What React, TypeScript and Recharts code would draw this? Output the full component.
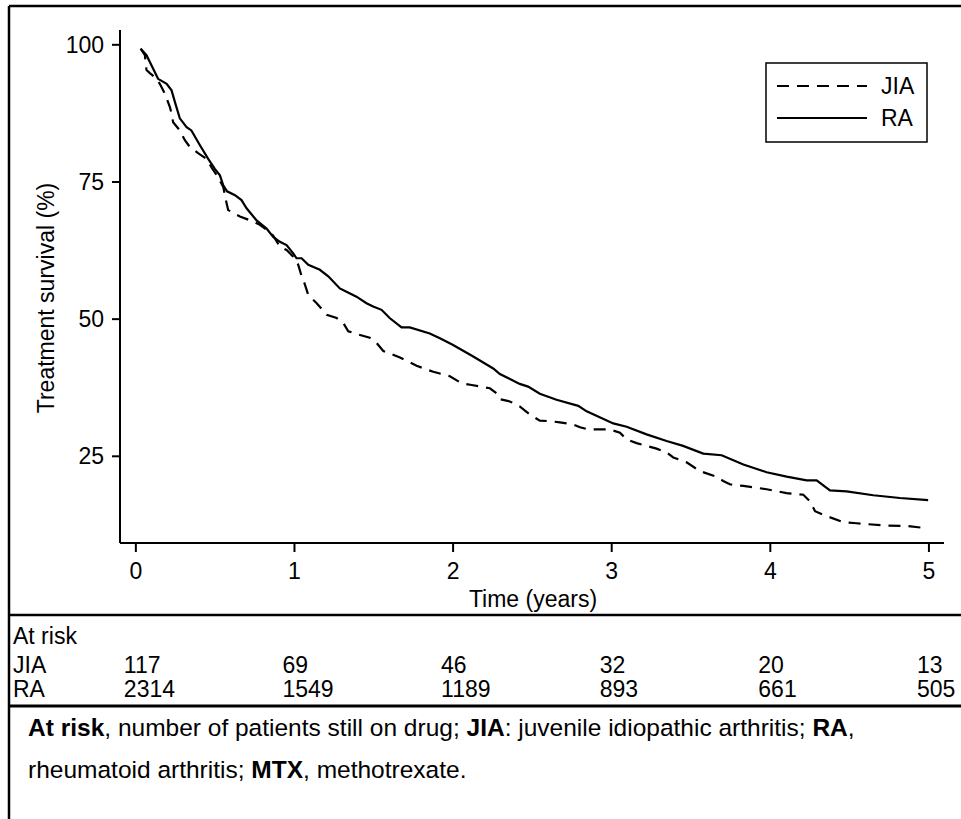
import React from 'react';
import { LineChart, Line, XAxis, YAxis } from 'recharts';

const raTime = [0.03,0.067,0.14,0.194,0.225,0.246,0.277,0.32,0.35,0.404,0.456,0.498,0.53,0.551,0.575,0.625,0.666,0.698,0.761,0.824,0.866,0.908,0.95,0.992,1.013,1.045,1.087,1.16,1.213,1.286,1.328,1.391,1.454,1.496,1.549,1.6,1.675,1.727,1.853,1.917,2.0,2.127,2.253,2.295,2.42,2.473,2.547,2.652,2.789,2.842,3.01,3.094,3.22,3.346,3.45,3.577,3.693,3.83,3.977,4.103,4.229,4.292,4.376,4.481,4.649,4.817,4.995];
const raSurv = [99.3,98.1,93.8,92.9,91.7,89.6,86.6,85.0,84.4,81.7,79.2,77.4,76.2,74.4,73.3,72.6,71.7,70.2,68.0,66.5,65.0,64.1,63.5,62.0,61.1,61.1,59.9,59.0,57.8,55.6,55.0,54.1,52.9,52.3,51.7,50.2,48.5,48.5,47.4,46.5,45.3,43.2,41.0,40.0,38.2,37.7,36.4,35.3,34.2,33.2,31.0,30.4,29.0,27.8,26.9,25.5,25.2,23.5,22.1,21.3,20.6,20.6,18.8,18.6,17.9,17.4,17.0];

const jiaTime = [0.03,0.057,0.067,0.09,0.12,0.151,0.183,0.214,0.225,0.235,0.277,0.309,0.34,0.39,0.446,0.48,0.509,0.551,0.572,0.582,0.656,0.74,0.782,0.824,0.866,0.908,0.95,0.992,1.024,1.045,1.066,1.087,1.14,1.203,1.266,1.308,1.339,1.402,1.475,1.517,1.56,1.665,1.77,1.875,1.98,2.054,2.117,2.232,2.274,2.295,2.358,2.42,2.484,2.547,2.61,2.673,2.757,2.8,2.852,2.989,3.052,3.094,3.157,3.283,3.346,3.388,3.472,3.556,3.66,3.703,3.745,3.83,3.977,4.103,4.208,4.25,4.282,4.355,4.46,4.544,4.712,4.859,4.985];
const jiaSurv = [99.3,98.1,95.4,94.8,94.1,92.9,91.1,88.7,87.5,85.9,84.4,82.6,81.4,80.3,79.2,77.5,76.3,74.1,71.1,69.9,68.7,67.8,67.2,66.3,65.2,63.2,62.6,61.4,59.9,57.8,56.3,54.4,52.9,50.8,50.2,49.3,47.8,47.2,46.6,45.7,44.2,43.0,41.5,40.4,39.6,38.3,38.0,37.4,36.5,35.4,35.0,34.1,32.6,31.5,31.4,31.2,30.8,30.3,29.9,29.9,29.3,28.1,27.4,26.4,25.7,24.8,23.9,22.3,21.3,20.5,19.9,19.6,19.0,18.3,18.0,16.8,15.0,14.1,13.0,12.8,12.4,12.3,11.9];

const xTicks = [0, 1, 2, 3, 4, 5];
const yTicks = [25, 50, 75, 100];
const riskGroups = ['JIA', 'RA'];
const jiaAtRisk = [117, 69, 46, 32, 20, 13];
const raAtRisk = [2314, 1549, 1189, 893, 661, 505];

const raData = raTime.map((t, i) => ({ t, s: raSurv[i] }));
const jiaData = jiaTime.map((t, i) => ({ t, s: jiaSurv[i] }));

const W = 961;
const H = 819;
const PLOT_LEFT = 120;
const PLOT_RIGHT = 944;
const PLOT_TOP = 30;
const PLOT_BOTTOM = 543;
const X_MIN = -0.1;
const X_MAX = 5.095;
const Y_MIN = 9.2;
const Y_MAX = 102.7;
const FONT = '"Liberation Sans", Arial, Helvetica, sans-serif';
const FS = 23;

const xPx = (t: number) => PLOT_LEFT + ((t - X_MIN) / (X_MAX - X_MIN)) * (PLOT_RIGHT - PLOT_LEFT);

export default function App() {
  const tickStyle = { fontSize: FS, fill: '#000', fontFamily: FONT };
  return (
    <div style={{ position: 'absolute', left: 0, top: 0, width: W, height: H, background: '#fff' }}>
      <LineChart
        width={W}
        height={H}
        margin={{ top: PLOT_TOP, right: W - PLOT_RIGHT, bottom: H - PLOT_BOTTOM - 40, left: PLOT_LEFT - 60 }}
      >
        <XAxis
          dataKey="t"
          type="number"
          domain={[X_MIN, X_MAX]}
          ticks={xTicks}
          allowDataOverflow
          height={40}
          tick={tickStyle}
          tickSize={9}
          tickMargin={11}
          axisLine={{ stroke: '#000', strokeWidth: 2 }}
          tickLine={{ stroke: '#000', strokeWidth: 2 }}
        />
        <YAxis
          type="number"
          domain={[Y_MIN, Y_MAX]}
          ticks={yTicks}
          allowDataOverflow
          width={60}
          tick={tickStyle}
          tickSize={8}
          tickMargin={8}
          axisLine={{ stroke: '#000', strokeWidth: 2 }}
          tickLine={{ stroke: '#000', strokeWidth: 2 }}
        />
        <Line
          data={jiaData}
          dataKey="s"
          name="JIA"
          type="linear"
          stroke="#000"
          strokeWidth={2.2}
          strokeDasharray="12 8"
          dot={false}
          isAnimationActive={false}
        />
        <Line
          data={raData}
          dataKey="s"
          name="RA"
          type="linear"
          stroke="#000"
          strokeWidth={2.2}
          dot={false}
          isAnimationActive={false}
        />
      </LineChart>
      <svg
        width={W}
        height={H}
        style={{ position: 'absolute', left: 0, top: 0, pointerEvents: 'none' }}
        fontFamily={FONT}
      >
        <line x1={9} y1={6} x2={W} y2={6} stroke="#000" strokeWidth={2.5} />
        <line x1={9} y1={6} x2={9} y2={H} stroke="#000" strokeWidth={2.5} />
        <line x1={9} y1={615} x2={W} y2={615} stroke="#000" strokeWidth={2.5} />
        <line x1={9} y1={706} x2={W} y2={706} stroke="#000" strokeWidth={3} />

        <text x={46} y={298} fontSize={FS} textAnchor="middle" dominantBaseline="central" transform="rotate(-90 46 298)">
          Treatment survival (%)
        </text>
        <text x={533} y={599} fontSize={FS} textAnchor="middle" dominantBaseline="central">
          Time (years)
        </text>

        <rect x={766} y={63} width={161} height={79} fill="#fff" stroke="#000" strokeWidth={1.5} />
        <line x1={777} y1={86} x2={867} y2={86} stroke="#000" strokeWidth={2.2} strokeDasharray="12 8" />
        <line x1={777} y1={118} x2={867} y2={118} stroke="#000" strokeWidth={2.2} />
        <text x={881} y={86} fontSize={FS} dominantBaseline="central">JIA</text>
        <text x={881} y={118} fontSize={FS} dominantBaseline="central">RA</text>

        <text x={13} y={636} fontSize={FS} dominantBaseline="central">At risk</text>
        <text x={13} y={665} fontSize={FS} dominantBaseline="central">{riskGroups[0]}</text>
        <text x={13} y={689} fontSize={FS} dominantBaseline="central">{riskGroups[1]}</text>
        {xTicks.map((t, i) => (
          <text key={'j' + t} x={xPx(t) - 12} y={665} fontSize={FS} dominantBaseline="central">
            {jiaAtRisk[i]}
          </text>
        ))}
        {xTicks.map((t, i) => (
          <text key={'r' + t} x={xPx(t) - 12} y={689} fontSize={FS} dominantBaseline="central">
            {raAtRisk[i]}
          </text>
        ))}

        <text x={28} y={727} fontSize={24.5} dominantBaseline="central">
          <tspan fontWeight="bold">At risk</tspan>
          <tspan>, number of patients still on drug; </tspan>
          <tspan fontWeight="bold">JIA</tspan>
          <tspan>: juvenile idiopathic arthritis; </tspan>
          <tspan fontWeight="bold">RA</tspan>
          <tspan>,</tspan>
        </text>
        <text x={28} y={769} fontSize={24.5} dominantBaseline="central">
          <tspan>rheumatoid arthritis; </tspan>
          <tspan fontWeight="bold">MTX</tspan>
          <tspan>, methotrexate.</tspan>
        </text>
      </svg>
    </div>
  );
}
